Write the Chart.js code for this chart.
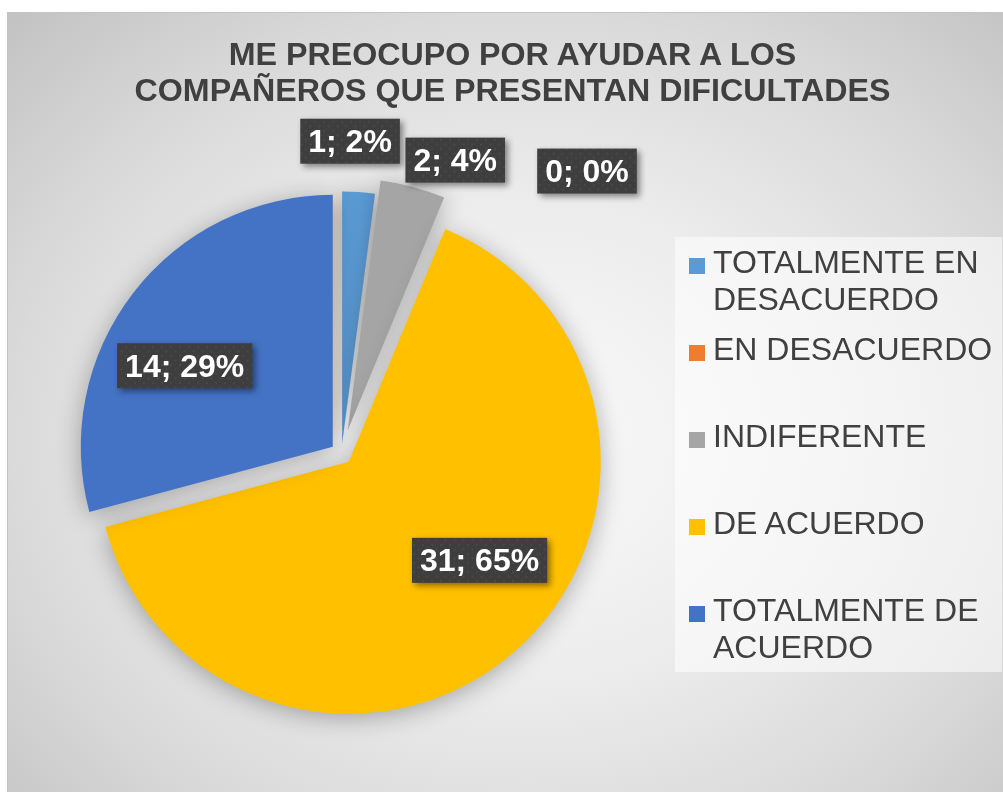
<!DOCTYPE html>
<html>
<head>
<meta charset="utf-8">
<script src="https://cdn.jsdelivr.net/npm/chart.js@4.4.1/dist/chart.umd.min.js"></script>
<style>
  html, body { margin: 0; padding: 0; background: #fff; width: 1003px; height: 792px; overflow: hidden; }
  #frame {
    position: absolute; left: 7px; top: 12px; width: 996px; height: 780px;
    background: radial-gradient(ellipse farthest-corner at 52% 55%, #fafafa 0%, #ececec 40%, #dadada 70%, #c2c2c2 100%);
    box-shadow: inset 1px 1px 0 #c4c4c4;
  }
  #pie { position: absolute; left: 0; top: 0; }
  #title {
    position: absolute; left: 10px; top: 25px; width: 991px;
    font: bold 32.2px "Liberation Sans", Arial, sans-serif; line-height: 35.5px;
    color: #404040; text-align: center;
  }
  #legend {
    position: absolute; left: 668px; top: 225px; width: 327px; height: 435px;
    background: rgba(255, 255, 255, 0.55);
  }
  .item { position: absolute; left: 0; height: 87px; width: 327px; }
  .item .box { position: absolute; left: 14px; top: 14px; width: 16px; height: 16px; }
  .item .txt {
    position: absolute; left: 38px; top: 0; width: 300px;
    font: 32px "Liberation Sans", Arial, sans-serif; line-height: 37px; color: #404040;
  }
</style>
</head>
<body>
<div id="frame">
  <canvas id="pie" width="996" height="780"></canvas>
  <div id="title">ME PREOCUPO POR AYUDAR A LOS<br>COMPAÑEROS QUE PRESENTAN DIFICULTADES</div>
  <div id="legend"></div>
</div>
<script>
// data
const categories = ["TOTALMENTE EN DESACUERDO", "EN DESACUERDO", "INDIFERENTE", "DE ACUERDO", "TOTALMENTE DE ACUERDO"];
const counts = [1, 0, 2, 31, 14];
const sliceColors = ["#5B9BD5", "#ED7D31", "#A5A5A5", "#FFC000", "#4472C4"];

// how far each slice is pulled out of the pie (px)
const explode = [10, 0, 24, 11, 11];
// label placement: [angle shift from slice middle in degrees, distance as share of radius]
const labelPlace = [[-2.25, 1.2], [33.5, 1.485], [6.7, 1.154], [-11.75, 0.65], [-8.8, 0.67]];

const total = counts.reduce((a, b) => a + b, 0);

/* HTML legend */
const legendEl = document.getElementById("legend");
categories.forEach((name, i) => {
    const item = document.createElement("div");
    item.className = "item";
    item.style.top = (7 + i * 87) + "px";
    item.innerHTML = '<div class="box" style="background:' + sliceColors[i] + '"></div><div class="txt">' + name + '</div>';
    legendEl.appendChild(item);
});

/* pull slices out and give them a soft shadow */
const explodePlugin = {
    id: "explodeSlices",
    beforeDatasetDraw(chart, args) {
        const ctx = chart.ctx;
        ctx.save();
        ctx.shadowColor = "rgba(0, 0, 0, 0.3)";
        ctx.shadowBlur = 24;
        ctx.shadowOffsetY = 4;
        args.meta.data.forEach((arc, i) => {
            const mid = (arc.startAngle + arc.endAngle) / 2;
            ctx.save();
            ctx.translate(Math.cos(mid) * explode[i], Math.sin(mid) * explode[i]);
            arc.draw(ctx);
            ctx.restore();
        });
        ctx.restore();
        return false;
    }
};

/* dotted dark fill for the data label boxes */
function makePattern(ctx) {
    const c = document.createElement("canvas");
    c.width = 9; c.height = 9;
    const p = c.getContext("2d");
    p.fillStyle = "#3e3e3e";
    p.fillRect(0, 0, 9, 9);
    p.fillStyle = "#4a4a4a";
    p.beginPath(); p.arc(2, 2, 1.1, 0, Math.PI * 2); p.fill();
    p.beginPath(); p.arc(6.5, 6.5, 1.1, 0, Math.PI * 2); p.fill();
    return ctx.createPattern(c, "repeat");
}

/* "value; percent" labels in dark boxes */
const labelPlugin = {
    id: "sliceLabels",
    afterDatasetsDraw(chart) {
        const ctx = chart.ctx;
        const meta = chart.getDatasetMeta(0);
        const pattern = makePattern(ctx);
        ctx.save();
        ctx.font = "bold 32px 'Liberation Sans', Arial, sans-serif";
        ctx.textAlign = "center";
        ctx.textBaseline = "middle";
        meta.data.forEach((arc, i) => {
            const mid = (arc.startAngle + arc.endAngle) / 2;
            const vx = arc.x + Math.cos(mid) * explode[i];
            const vy = arc.y + Math.sin(mid) * explode[i];
            const a = mid + labelPlace[i][0] * Math.PI / 180;
            const d = arc.outerRadius * labelPlace[i][1];
            const x = vx + Math.cos(a) * d;
            const y = vy + Math.sin(a) * d;
            const text = counts[i] + "; " + Math.round(counts[i] / total * 100) + "%";
            const w = ctx.measureText(text).width + 16;
            const h = 45;
            ctx.save();
            ctx.shadowColor = "rgba(0, 0, 0, 0.45)";
            ctx.shadowBlur = 6;
            ctx.shadowOffsetX = 3;
            ctx.shadowOffsetY = 3;
            ctx.fillStyle = pattern;
            ctx.fillRect(x - w / 2, y - h / 2, w, h);
            ctx.restore();
            ctx.fillStyle = "#ffffff";
            ctx.fillText(text, x, y + 2);
        });
        ctx.restore();
    }
};

new Chart("pie", {
    type: "pie",
    data: {
        labels: categories,
        datasets: [{
            data: counts,
            backgroundColor: sliceColors,
            borderWidth: 0,
            hoverOffset: 0,
            offset: 0
        }]
    },
    options: {
        responsive: false,
        animation: false,
        events: [],
        layout: {
            padding: { left: 82.5, top: 189.5, right: 409.5, bottom: 86.5 }
        },
        plugins: {
            legend: { display: false },
            title: { display: false },
            tooltip: { enabled: false }
        }
    },
    plugins: [explodePlugin, labelPlugin]
});
</script>
</body>
</html>
